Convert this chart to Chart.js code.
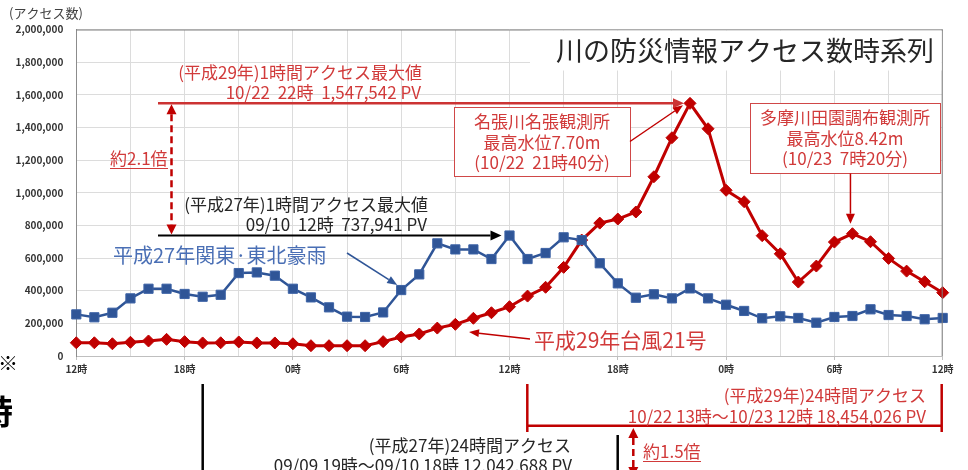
<!DOCTYPE html>
<html lang="ja">
<head>
<meta charset="utf-8">
<title>川の防災情報アクセス数時系列</title>
<script src="https://cdn.jsdelivr.net/npm/chart.js@4.4.1/dist/chart.umd.min.js"></script>
<style>
  html, body { margin: 0; padding: 0; background: #fff; }
  #wrap { width: 968px; height: 470px; overflow: hidden; }
</style>
</head>
<body>
<div id="wrap"><canvas id="chart" width="968" height="470"></canvas></div>
<script>
// hourly x-axis: 12時 (day 1) .. 12時 (day 3)
const categories = [
  '12時','13時','14時','15時','16時','17時','18時','19時','20時','21時','22時','23時',
  '0時','1時','2時','3時','4時','5時','6時','7時','8時','9時','10時','11時',
  '12時','13時','14時','15時','16時','17時','18時','19時','20時','21時','22時','23時',
  '0時','1時','2時','3時','4時','5時','6時','7時','8時','9時','10時','11時','12時'
];

// 平成27年関東・東北豪雨 (access per hour)
const h27Values = [
  255000, 237000, 265000, 353000, 412000, 412000, 380000, 363000, 375000, 508000,
  512000, 492000, 412000, 359000, 298000, 241000, 239000, 267000, 404000, 500000,
  690000, 653000, 653000, 594000, 737941, 594000, 631000, 727000, 710000, 568000,
  445000, 357000, 378000, 353000, 414000, 353000, 314000, 276000, 231000, 243000,
  233000, 204000, 239000, 245000, 286000, 251000, 245000, 225000, 233000
];

// 平成29年台風21号 (access per hour)
const h29Values = [
  81000, 81000, 75000, 84000, 92000, 102000, 88000, 80000, 81000, 86000,
  80000, 80000, 75000, 63000, 63000, 63000, 63000, 88000, 116000, 135000,
  171000, 194000, 231000, 265000, 302000, 367000, 421000, 543000, 710000, 814000,
  839000, 882000, 1098000, 1337000, 1547542, 1392000, 1015000, 945000, 737000, 626000,
  453000, 551000, 698000, 749000, 700000, 598000, 520000, 455000, 388000
];

const yTicks = [0, 200000, 400000, 600000, 800000, 1000000, 1200000, 1400000, 1600000, 1800000, 2000000];

const JP = '"Noto Sans CJK JP", "Noto Sans", sans-serif';
const RED = '#c00000';
const RED_TXT = '#d13a3a';
const BLUE = '#2f5597';
const BLUE_TXT = '#4a6fb5';

Chart.defaults.font.family = JP;

function txt(ctx, s, x, y, size, color, align) {
  ctx.font = size + 'px ' + JP;
  ctx.fillStyle = color;
  ctx.textAlign = align || 'left';
  ctx.textBaseline = 'middle';
  ctx.fillText(s, x, y);
}

function line(ctx, x1, y1, x2, y2, color, lw, dash) {
  ctx.save();
  ctx.strokeStyle = color;
  ctx.lineWidth = lw;
  ctx.setLineDash(dash || []);
  ctx.beginPath();
  ctx.moveTo(x1, y1);
  ctx.lineTo(x2, y2);
  ctx.stroke();
  ctx.restore();
}

function head(ctx, x1, y1, x2, y2, color, hl, hw) {
  const a = Math.atan2(y2 - y1, x2 - x1);
  const bx = x2 - hl * Math.cos(a), by = y2 - hl * Math.sin(a);
  ctx.fillStyle = color;
  ctx.beginPath();
  ctx.moveTo(x2, y2);
  ctx.lineTo(bx + hw / 2 * Math.sin(a), by - hw / 2 * Math.cos(a));
  ctx.lineTo(bx - hw / 2 * Math.sin(a), by + hw / 2 * Math.cos(a));
  ctx.closePath();
  ctx.fill();
  return [bx, by];
}

function arrow(ctx, x1, y1, x2, y2, color, lw, hl, hw, dash) {
  const b = head(ctx, x1, y1, x2, y2, color, hl, hw);
  line(ctx, x1, y1, b[0], b[1], color, lw, dash);
}

function dblArrow(ctx, x, yTop, yBot, color, lw, hl, hw) {
  head(ctx, x, yBot, x, yTop, color, hl, hw);
  head(ctx, x, yTop, x, yBot, color, hl, hw);
  line(ctx, x, yTop + hl, x, yBot - hl, color, lw, [7, 4]);
}

function box(ctx, x, y, w, h, lines, cx) {
  ctx.fillStyle = '#fff';
  ctx.fillRect(x, y, w, h);
  ctx.strokeStyle = '#d04848';
  ctx.lineWidth = 1;
  ctx.strokeRect(x + 0.5, y + 0.5, w, h);
  lines.forEach(function (s, i) {
    txt(ctx, s, cx, y + 15 + i * 20.5, 17, RED_TXT, 'center');
  });
}

const notes = {
  id: 'notes',
  afterDraw(chart) {
    const ctx = chart.ctx;
    const a = chart.chartArea;
    const x = chart.scales.x, y = chart.scales.y;
    ctx.save();

    // plot frame (top / right)
    line(ctx, a.left, a.top + 0.5, a.right, a.top + 0.5, '#7f7f7f', 1);
    line(ctx, a.right - 0.5, a.top, a.right - 0.5, a.bottom, '#7f7f7f', 1);

    // axis caption
    txt(ctx, '(アクセス数)', 9, 13, 13, '#404040');

    // title
    ctx.fillStyle = '#fff';
    ctx.fillRect(530, a.top + 1, a.right - 531, 40);
    txt(ctx, '川の防災情報アクセス数時系列', 934, 51, 27, '#262626', 'right');

    // H29 hourly max
    const yMax29 = y.getPixelForValue(Math.max.apply(null, h29Values));
    const xMax29 = x.getPixelForValue(h29Values.indexOf(Math.max.apply(null, h29Values)));
    txt(ctx, '(平成29年)1時間アクセス最大値', 422, 73, 17, RED_TXT, 'right');
    txt(ctx, '10/22  22時  1,547,542 PV', 421, 93, 17, RED_TXT, 'right');
    arrow(ctx, 158, yMax29, xMax29 - 6, yMax29, '#cc3333', 2.5, 11, 10);

    // H27 hourly max
    const yMax27 = y.getPixelForValue(Math.max.apply(null, h27Values));
    const xMax27 = x.getPixelForValue(h27Values.indexOf(Math.max.apply(null, h27Values)));
    txt(ctx, '(平成27年)1時間アクセス最大値', 428, 205, 17, '#262626', 'right');
    txt(ctx, '09/10  12時  737,941 PV', 427, 225, 17, '#262626', 'right');
    arrow(ctx, 158, yMax27, xMax27 - 8, yMax27, '#000', 2, 11, 10);

    // ratio arrow 約2.1倍
    dblArrow(ctx, 171.5, yMax29 + 1, yMax27 - 1, RED, 2.5, 10, 10);
    txt(ctx, '約2.1倍', 110, 159, 17, RED_TXT);
    line(ctx, 110, 168.5, 168, 168.5, RED_TXT, 1);

    // series labels
    txt(ctx, '平成27年関東·東北豪雨', 113, 255, 20, BLUE_TXT);
    arrow(ctx, 347, 253, x.getPixelForValue(18) - 4, y.getPixelForValue(h27Values[18]) - 5, BLUE, 1.5, 10, 8);
    txt(ctx, '平成29年台風21号', 534, 340, 21, RED_TXT);
    arrow(ctx, 530, 339, 469, 332, RED, 1.5, 10, 8);

    // water level boxes
    box(ctx, 454, 107, 176, 69, ['名張川名張観測所', '最高水位7.70m', '(10/22  21時40分)'], 542);
    arrow(ctx, 630, 141.5, xMax29 - 7, yMax29 + 2, RED, 1.5, 10, 8);
    box(ctx, 750, 103, 190, 70, ['多摩川田園調布観測所', '最高水位8.42m', '(10/23  7時20分)'], 845);
    const x43 = x.getPixelForValue(43) - 2;
    arrow(ctx, x43, 173.5, x43, y.getPixelForValue(h29Values[43]) - 10, RED, 1.5, 10, 9);

    // side fragments
    txt(ctx, '※', -2, 363, 20, '#000');
    ctx.font = 'bold 33px ' + JP;
    ctx.fillStyle = '#000';
    ctx.textAlign = 'left';
    ctx.textBaseline = 'middle';
    ctx.fillText('時', -20, 411);
    line(ctx, 202.7, 384, 202.7, 470, '#000', 2.5);

    // 24h totals
    line(ctx, 527.3, 384, 527.3, 432, RED, 2.5);
    line(ctx, 941.7, 384, 941.7, 432, RED, 2.5);
    line(ctx, 527.3, 425.7, 941.7, 425.7, RED, 2.5);
    txt(ctx, '(平成29年)24時間アクセス', 926, 396, 17, RED_TXT, 'right');
    txt(ctx, '10/22 13時～10/23 12時 18,454,026 PV', 926, 417, 17, RED_TXT, 'right');

    line(ctx, 617.7, 435, 617.7, 470, '#000', 2.5);
    txt(ctx, '(平成27年)24時間アクセス', 571, 446, 17, '#262626', 'right');
    txt(ctx, '09/09 19時～09/10 18時 12,042,688 PV', 572, 466, 17, '#262626', 'right');

    dblArrow(ctx, 633.3, 428, 477, RED, 2.5, 10, 10);
    txt(ctx, '約1.5倍', 643, 452, 17, RED_TXT);
    line(ctx, 643, 461.5, 701, 461.5, RED_TXT, 1);

    ctx.restore();
  }
};

new Chart(document.getElementById('chart').getContext('2d'), {
  type: 'line',
  data: {
    labels: categories,
    datasets: [{
      label: '平成27年関東・東北豪雨',
      data: h27Values,
      borderColor: BLUE,
      backgroundColor: BLUE,
      pointBorderColor: '#3d63a6',
      borderWidth: 2.5,
      pointStyle: 'rect',
      pointRadius: 6.5,
      pointBorderWidth: 1,
      tension: 0,
      clip: false
    }, {
      label: '平成29年台風21号',
      data: h29Values,
      borderColor: RED,
      backgroundColor: RED,
      borderWidth: 3,
      pointStyle: 'rectRot',
      pointRadius: 6,
      pointBorderWidth: 1,
      tension: 0,
      clip: false
    }]
  },
  options: {
    responsive: false,
    animation: false,
    layout: { padding: { left: 0, top: 29.5, right: 25.3, bottom: 0 } },
    plugins: { legend: { display: false }, tooltip: { enabled: false } },
    scales: {
      x: {
        type: 'category',
        offset: false,
        afterFit: function (s) { s.height = 114; },
        grid: {
          color: function (c) { return c.index % 3 === 0 ? '#dcdcdc' : 'rgba(0,0,0,0)'; },
          tickColor: function (c) { return c.index % 6 === 0 ? '#bfbfbf' : 'rgba(0,0,0,0)'; },
          tickLength: 4
        },
        border: { color: '#bfbfbf' },
        ticks: {
          autoSkip: false,
          maxRotation: 0,
          padding: 3,
          color: '#333',
          font: { size: 10, weight: 'bold' },
          callback: function (v, i) { return i % 6 === 0 ? categories[i] : ''; }
        }
      },
      y: {
        min: yTicks[0],
        max: yTicks[yTicks.length - 1],
        afterFit: function (s) { s.width = 76.3; },
        afterBuildTicks: function (s) { s.ticks = yTicks.map(function (v) { return { value: v }; }); },
        grid: { color: '#dcdcdc', drawTicks: false },
        border: { color: '#8c8c8c' },
        ticks: {
          padding: 13,
          color: '#333',
          font: { size: 10, weight: 'bold' },
          callback: function (v) { return v.toLocaleString('en-US'); }
        }
      }
    }
  },
  plugins: [notes]
});
</script>
</body>
</html>
